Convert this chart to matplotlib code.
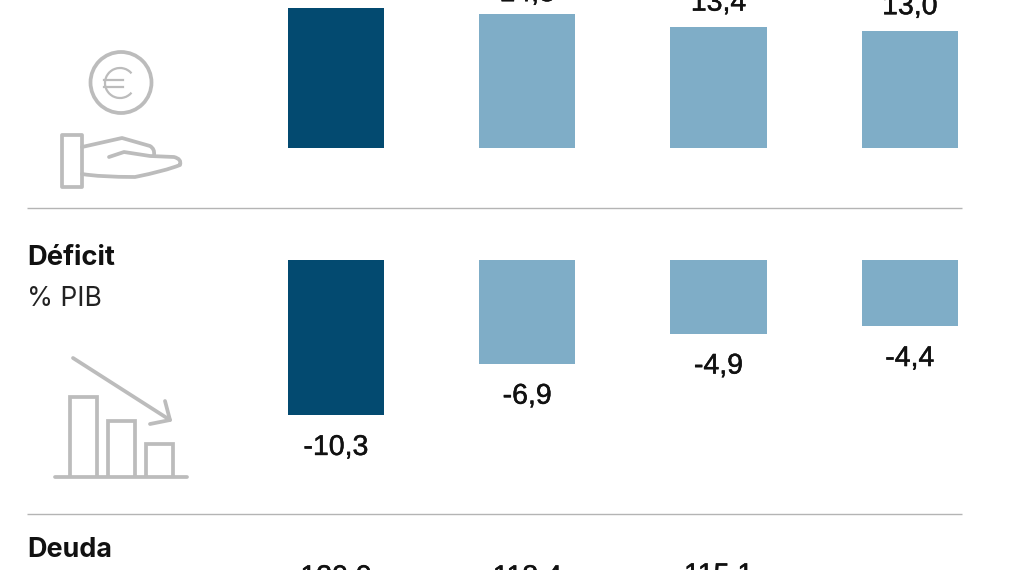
import matplotlib
matplotlib.use("Agg")
import matplotlib.pyplot as plt
import matplotlib.patheffects as pe
from matplotlib.patches import Circle, Rectangle, Arc
from matplotlib.path import Path
from matplotlib.patches import PathPatch

W, H = 1013, 570
DARK = "#034a70"
LIGHT = "#7fadc7"
GREY = "#bcbcbc"
RULE = "#b4b4b4"
NUMF = ["Liberation Sans", "DejaVu Sans"]
HEADF = ["Inter", "DejaVu Sans"]
NUMSIZE = 20.5
NUM_FX = [pe.withStroke(linewidth=0.35, foreground="#111111")]

periods = [0, 1, 2, 3]
ingresos_values = [15.5, 14.8, 13.4, 13.0]
deficit_values = [-10.3, -6.9, -4.9, -4.4]
deuda_values = [120.0, 118.4, 115.1]
ingresos_labels = [None, "14,8", "13,4", "13,0"]
deficit_labels = ["-10,3", "-6,9", "-4,9", "-4,4"]
deuda_labels = ["120,0", "118,4", "115,1"]
bar_colors = [DARK, LIGHT, LIGHT, LIGHT]

fig = plt.figure(figsize=(W / 100, H / 100), dpi=100, facecolor="white")

X0, X1 = 240.0, 1005.0
PX_PER_CAT = 191.3
CENTER0 = 335.9


def panel(y_top, y_bottom, ymin, ymax):
    ax = fig.add_axes([X0 / W, 1 - y_bottom / H, (X1 - X0) / W, (y_bottom - y_top) / H])
    ax.set_xlim((X0 - CENTER0) / PX_PER_CAT, (X1 - CENTER0) / PX_PER_CAT)
    ax.set_ylim(ymin, ymax)
    ax.axis("off")
    ax.patch.set_alpha(0)
    return ax


ax1 = panel(0, 148, 0, 148 / 9.03)
ax1.bar(periods, ingresos_values, width=0.504, color=bar_colors, clip_on=False)
for x, v, t, off in zip(periods, ingresos_values, ingresos_labels, (0, 9.5, 11.8, 11.8)):
    if t:
        ax1.annotate(t, (x, v), xytext=(0, off), textcoords="offset points",
                     ha="center", va="baseline", fontsize=NUMSIZE, family=NUMF,
                     color="#111111", annotation_clip=False, path_effects=NUM_FX)

ax2 = panel(260, 480, -220 / 15.07, 0)
ax2.bar(periods, deficit_values, width=0.504, color=bar_colors)
for x, v, t in zip(periods, deficit_values, deficit_labels):
    ax2.annotate(t, (x, v), xytext=(0, -28.6), textcoords="offset points",
                 ha="center", va="baseline", fontsize=NUMSIZE, family=NUMF,
                 color="#111111", path_effects=NUM_FX)

ov = fig.add_axes([0, 0, 1, 1])
ov.set_xlim(0, W)
ov.set_ylim(H, 0)
ov.axis("off")
ov.patch.set_alpha(0)

for y in (208, 514):
    ov.plot([27, 962], [y, y], color=RULE, lw=1.0, solid_capstyle="butt")

ov.text(27, 265, "Déficit", fontsize=19.7, fontweight="bold", family=HEADF, color="#111111", va="baseline")
ov.text(27, 306, "% PIB", fontsize=19, family=HEADF, color="#222222", va="baseline")
ov.text(27, 557, "Deuda", fontsize=19.4, fontweight="bold", family=HEADF, color="#111111", va="baseline")

for x, t, y in zip(periods, deuda_labels, (585, 585, 583)):
    ov.text(CENTER0 + x * PX_PER_CAT, y, t, ha="center", va="baseline",
            fontsize=NUMSIZE, family=NUMF, color="#111111", path_effects=NUM_FX)

LW = 2.7
kw = dict(fill=False, edgecolor=GREY, lw=LW, capstyle="round", joinstyle="round")
ov.add_patch(Circle((121, 82.5), 30.5, **kw))
ov.add_patch(Arc((120, 83), 30, 30, theta1=40, theta2=320, edgecolor=GREY, lw=1.6))
for y in (80, 87):
    ov.plot([104, 123], [y, y], color=GREY, lw=1.6)
ov.add_patch(Rectangle((62, 134.5), 20, 52.5, **kw))
c3, l2 = Path.CURVE3, Path.LINETO
hand1 = Path([(82, 147), (122, 138), (150, 146), (155, 149), (154, 155)],
             [Path.MOVETO, l2, l2, c3, c3])
hand2 = Path([(109, 157), (124, 152), (150, 156), (174, 157), (182, 159), (180, 165),
              (165, 171), (135, 177), (100, 177), (82, 174)],
             [Path.MOVETO, l2, l2, l2, c3, c3, c3, c3, c3, l2])
ov.add_patch(PathPatch(hand1, **kw))
ov.add_patch(PathPatch(hand2, **kw))
for x0, x1, yt in ((70, 97, 397), (108, 135, 421), (146, 173, 444)):
    ov.plot([x0, x0, x1, x1], [476, yt, yt, 476], color=GREY, lw=LW, solid_joinstyle="miter")
ov.plot([55, 187], [476.5, 476.5], color=GREY, lw=LW, solid_capstyle="round")
ov.plot([73, 170], [358, 420], color=GREY, lw=LW, solid_capstyle="round")
ov.plot([165, 170, 150], [401, 420, 424], color=GREY, lw=LW, solid_capstyle="round", solid_joinstyle="round")

fig.savefig("out.png", dpi=100)
